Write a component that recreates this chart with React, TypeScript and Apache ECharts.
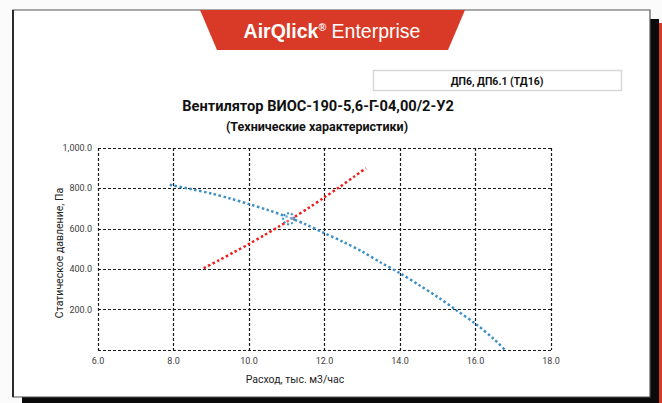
import React, { useEffect, useRef } from "react";
import * as echarts from "echarts";

const xTicks = [6, 8, 10, 12, 14, 16, 18];
const yTicks = [0, 200, 400, 600, 800, 1000];

// Fan curve: flow (thousand m3/h) vs static pressure (Pa)
const fanFlow = [7.9, 8.5, 9.0, 9.5, 10.0, 10.5, 11.0, 11.5, 12.0, 12.5, 13.0, 13.5, 14.0, 14.5, 15.0, 15.5, 16.0, 16.5, 16.78];
const fanPressure = [818, 795, 775, 750, 722, 693, 660, 622, 578, 535, 487, 432, 380, 322, 262, 196, 130, 52, 0];

// Network (system) curve
const netFlow = [8.8, 9.2, 9.6, 10.0, 10.4, 10.8, 11.2, 11.6, 12.0, 12.4, 12.8, 13.1];
const netPressure = [405, 444, 484, 525, 568, 612, 658, 706, 756, 807, 860, 900];

// Operating point
const opFlow = [11.05];
const opPressure = [650];

const bannerBrand = "AirQlick";
const bannerReg = "®";
const bannerRest = " Enterprise";
const boxLabel = "ДП6, ДП6.1 (ТД16)";
const chartTitle = "Вентилятор ВИОС-190-5,6-Г-04,00/2-У2";
const chartSubtitle = "(Технические характеристики)";
const xName = "Расход, тыс. м3/час";
const yName = "Статическое давление, Па";

const FONT = "Roboto, 'Noto Sans', sans-serif";

export default function App() {
  const ref = useRef<HTMLDivElement>(null);
  useEffect(() => {
    if (!ref.current) return;
    const chart = echarts.init(ref.current, null, { renderer: "svg" });
    const fanData = fanFlow.map((x, i) => [x, fanPressure[i]]);
    const netData = netFlow.map((x, i) => [x, netPressure[i]]);
    const opData = opFlow.map((x, i) => [x, opPressure[i]]);
    const grid = { color: "#1a1a1a", width: 1.2, type: [3, 2] as any };
    chart.setOption({
      animation: false,
      backgroundColor: "#fbfbfb",
      grid: { left: 98, right: 111, top: 148, bottom: 53, containLabel: false },
      xAxis: {
        type: "value",
        min: xTicks[0],
        max: xTicks[xTicks.length - 1],
        interval: 2,
        axisLine: { show: false },
        axisTick: { show: false },
        splitLine: { show: true, lineStyle: grid },
        axisLabel: {
          margin: 6,
          fontSize: 9,
          color: "#404040",
          fontFamily: FONT,
          formatter: (v: number) => v.toFixed(1),
        },
      },
      yAxis: {
        type: "value",
        min: yTicks[0],
        max: yTicks[yTicks.length - 1],
        interval: 200,
        axisLine: { show: false },
        axisTick: { show: false },
        splitLine: { show: true, lineStyle: grid },
        axisLabel: {
          margin: 6,
          fontSize: 9,
          color: "#404040",
          fontFamily: FONT,
          formatter: (v: number) =>
            v === 0 ? "" : v.toLocaleString("en-US", { minimumFractionDigits: 1, maximumFractionDigits: 1 }),
        },
      },
      graphic: [
        { type: "rect", z: -10, shape: { x: 22, y: 19, width: 637, height: 390 }, style: { fill: "#0a0a0a" } },
        { type: "rect", z: -10, shape: { x: 659, y: 23, width: 3, height: 390 }, style: { fill: "#d83a27" } },
        { type: "rect", z: -9, shape: { x: 13, y: 10, width: 637, height: 387 }, style: { fill: "#ffffff", stroke: "#555555", lineWidth: 1.2 } },
        { type: "line", z: -8, shape: { x1: 13, y1: 10, x2: 13, y2: 397 }, style: { stroke: "#111", lineWidth: 1.6 } },
        {
          type: "polygon",
          z: -8,
          shape: { points: [[200, 10], [465, 10], [448, 50], [217, 50]] },
          style: { fill: "#d83a27" },
        },
        {
          type: "text",
          x: 332,
          y: 31,
          style: {
            text: `{b|${bannerBrand}}{s|${bannerReg}}{r|${bannerRest}}`,
            align: "center",
            verticalAlign: "middle",
            rich: {
              b: { fontFamily: "'Liberation Sans', Arial, sans-serif", fontWeight: "bold", fontSize: 19.5, fill: "#ffffff" },
              s: { fontFamily: "'Liberation Sans', Arial, sans-serif", fontWeight: "bold", fontSize: 10.5, fill: "#ffffff", verticalAlign: "top", padding: [0, 0, 9, 0] },
              r: { fontFamily: "'Liberation Sans', Arial, sans-serif", fontSize: 19.5, fill: "#ffffff" },
            },
          },
        },
        {
          type: "rect",
          z: -8,
          shape: { x: 373.5, y: 70.5, width: 248, height: 20 },
          style: { fill: "#ffffff", stroke: "#d8d8d8", lineWidth: 1.5 },
        },
        {
          type: "text",
          x: 497,
          y: 81,
          style: { text: boxLabel, align: "center", verticalAlign: "middle", fontFamily: FONT, fontWeight: "bold", fontSize: 10.5, fill: "#111" },
        },
        {
          type: "text",
          x: 318,
          y: 106,
          style: { text: chartTitle, align: "center", verticalAlign: "middle", fontFamily: FONT, fontWeight: "bold", fontSize: 14.6, fill: "#111" },
        },
        {
          type: "text",
          x: 317,
          y: 126,
          style: { text: chartSubtitle, align: "center", verticalAlign: "middle", fontFamily: FONT, fontWeight: "bold", fontSize: 12.5, fill: "#111" },
        },
        {
          type: "text",
          x: 295,
          y: 379,
          style: { text: xName, align: "center", verticalAlign: "middle", fontFamily: FONT, fontSize: 10.5, fill: "#222" },
        },
        {
          type: "text",
          x: 59,
          y: 253,
          rotation: Math.PI / 2,
          style: { text: yName, align: "center", verticalAlign: "middle", fontFamily: FONT, fontSize: 10.5, fill: "#222" },
        },
      ],
      series: [
        {
          type: "line",
          data: netData,
          smooth: 0.3,
          showSymbol: false,
          lineStyle: { color: "#f21c1c", width: 2.5, type: [2.5, 2.5] },
          z: 3,
        },
        {
          type: "line",
          data: fanData,
          smooth: 0.3,
          showSymbol: false,
          lineStyle: { color: "#3d8fc6", width: 2.5, type: [2.5, 2.5] },
          z: 4,
        },
        {
          type: "scatter",
          data: opData,
          symbol: "circle",
          symbolSize: 11,
          itemStyle: { color: "rgba(255,255,255,0.3)", opacity: 1, borderColor: "#3d8fc6", borderWidth: 2, borderType: [2, 2] },
          z: 5,
        },
      ],
    });
    return () => chart.dispose();
  }, []);
  return <div ref={ref} style={{ position: "fixed", left: 0, top: 0, width: 662, height: 403 }} />;
}
